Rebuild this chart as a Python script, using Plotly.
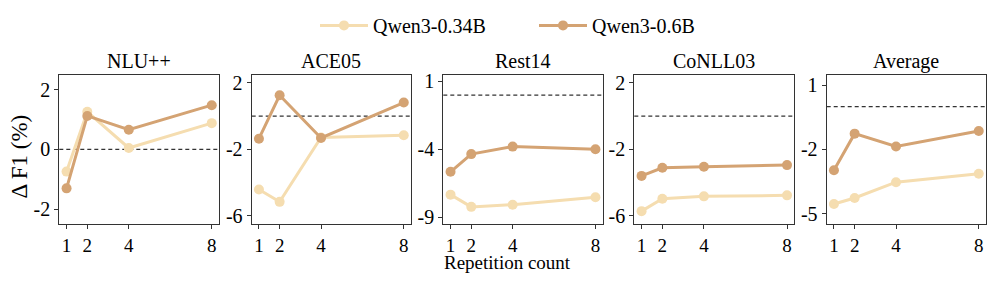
import plotly.graph_objects as go
from plotly.subplots import make_subplots

reps = [1, 2, 4, 8]
datasets = ["NLU++", "ACE05", "Rest14", "CoNLL03", "Average"]
qwen_034b = {
    "NLU++": [-0.74, 1.26, 0.05, 0.88],
    "ACE05": [-4.41, -5.15, -1.28, -1.15],
    "Rest14": [-7.32, -8.22, -8.06, -7.51],
    "CoNLL03": [-5.71, -4.96, -4.82, -4.76],
    "Average": [-4.55, -4.27, -3.53, -3.14],
}
qwen_06b = {
    "NLU++": [-1.30, 1.12, 0.66, 1.48],
    "ACE05": [-1.35, 1.26, -1.31, 0.82],
    "Rest14": [-5.64, -4.34, -3.79, -3.98],
    "CoNLL03": [-3.59, -3.10, -3.04, -2.94],
    "Average": [-2.97, -1.26, -1.86, -1.14],
}
y_ticks = {
    "NLU++": [-2, 0, 2],
    "ACE05": [-6, -2, 2],
    "Rest14": [-9, -4, 1],
    "CoNLL03": [-6, -2, 2],
    "Average": [-5, -2, 1],
}
y_ranges = {
    "NLU++": [-2.5, 2.5],
    "ACE05": [-6.5, 2.5],
    "Rest14": [-9.5, 1.5],
    "CoNLL03": [-6.5, 2.5],
    "Average": [-5.5, 1.5],
}

LIGHT = "#F5DDB0"
DARK = "#D4A373"
FONT = "Liberation Serif"
W, H = 996, 283

x_px = [(59.3, 219), (251.7, 411), (443.3, 602.7), (634.3, 794.3), (826.7, 986)]
y_top, y_bot = 72.7, 226.7

fig = make_subplots(rows=1, cols=5)

for i, ds in enumerate(datasets):
    c = i + 1
    fig.add_trace(go.Scatter(x=reps, y=qwen_034b[ds], mode="lines+markers",
                             line=dict(color=LIGHT, width=3), marker=dict(color=LIGHT, size=10),
                             name="Qwen3-0.34B", legendgroup="a", showlegend=(i == 0)),
                  row=1, col=c)
    fig.add_trace(go.Scatter(x=reps, y=qwen_06b[ds], mode="lines+markers",
                             line=dict(color=DARK, width=3), marker=dict(color=DARK, size=10),
                             name="Qwen3-0.6B", legendgroup="b", showlegend=(i == 0)),
                  row=1, col=c)
    xa = "xaxis" if i == 0 else f"xaxis{c}"
    ya = "yaxis" if i == 0 else f"yaxis{c}"
    fig.layout[xa].update(domain=[x_px[i][0] / W, x_px[i][1] / W], range=[0.65, 8.35],
                          tickvals=reps, ticktext=[str(v) for v in reps])
    fig.layout[ya].update(domain=[1 - y_bot / H, 1 - y_top / H], range=y_ranges[ds],
                          tickvals=y_ticks[ds], ticktext=[str(v) for v in y_ticks[ds]])
    fig.add_shape(type="line", xref=f"x{'' if i == 0 else c} domain", yref=f"y{'' if i == 0 else c}",
                  x0=0, x1=1, y0=0, y1=0, line=dict(color="#333333", width=1.2, dash="4px,3px"), layer="below")
    fig.add_annotation(text=ds, xref="paper", yref="paper",
                       x=(x_px[i][0] + x_px[i][1]) / 2 / W, y=1 - 59 / H,
                       xanchor="center", yanchor="middle", showarrow=False,
                       font=dict(family=FONT, size=20, color="black"))

axis_style = dict(showline=True, mirror=True, linecolor="#333333", linewidth=1.2,
                  ticks="outside", ticklen=4, tickwidth=1.2, tickcolor="#333333",
                  showgrid=False, zeroline=False)
fig.update_xaxes(**axis_style, tickfont=dict(family=FONT, size=19, color="black"))
fig.update_yaxes(**axis_style, tickfont=dict(family=FONT, size=20, color="black"))

fig.add_annotation(text="Repetition count", xref="paper", yref="paper", x=507.8 / W, y=1 - 266 / H,
                   xanchor="center", yanchor="middle", showarrow=False,
                   font=dict(family=FONT, size=19, color="black"))
fig.add_annotation(text="Δ F1 (%)", xref="paper", yref="paper", x=20 / W, y=1 - 157 / H,
                   xanchor="center", yanchor="middle", showarrow=False, textangle=-90,
                   font=dict(family=FONT, size=23, color="black"))

fig.update_layout(width=W, height=H, margin=dict(l=0, r=0, t=0, b=0),
                  plot_bgcolor="white", paper_bgcolor="white",
                  font=dict(family=FONT, size=20, color="black"),
                  legend=dict(orientation="h", x=315 / W, xanchor="left", y=1 - 22 / H, yanchor="middle",
                              font=dict(family=FONT, size=20, color="black"),
                              entrywidth=156, itemwidth=48, bgcolor="rgba(0,0,0,0)"))

fig.write_html("out.html", config={"displayModeBar": False},
               post_script="document.body.style.margin='0';document.body.style.padding='0';")
